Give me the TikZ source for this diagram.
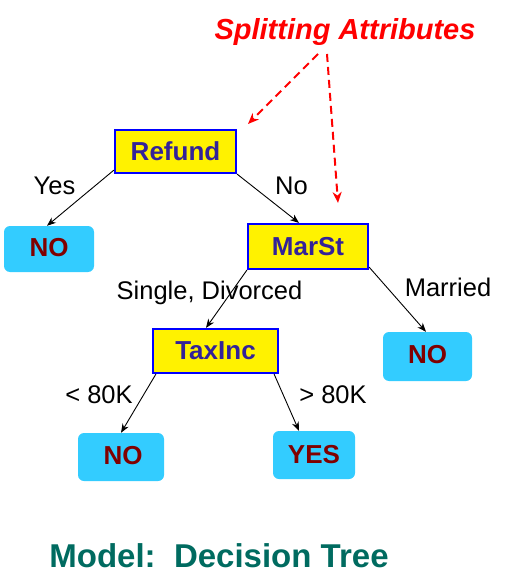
\documentclass[tikz,border=0pt]{standalone}
\usepackage{fontspec}
\setmainfont{Liberation Sans}
\usetikzlibrary{arrows.meta}
\definecolor{boxtext}{HTML}{332299}
\definecolor{leaftext}{HTML}{800000}
\definecolor{leaffill}{HTML}{33CCFF}
\definecolor{titlecol}{HTML}{006B60}
\begin{document}
\begin{tikzpicture}[x=1pt,y=-1pt,
  attrbox/.style={draw=blue, line width=2.2pt, fill=yellow, inner sep=0pt,
    font=\fontsize{26}{30}\selectfont\bfseries, text=boxtext},
  leafbox/.style={fill=leaffill, rounded corners=6pt, inner sep=0pt,
    font=\fontsize{26}{30}\selectfont\bfseries, text=leaftext},
  edgelabel/.style={inner sep=0pt, anchor=base, font=\fontsize{25.5}{30}\selectfont},
  treeedge/.style={draw=black, line width=0.9pt, -{Stealth[length=9pt,width=7pt]}},
  hintedge/.style={draw=red, line width=2pt, dash pattern=on 8pt off 5pt,
    -{Stealth[length=11pt,width=9pt]}}
]
\useasboundingbox (0,0) rectangle (510,585);
% title
\node[inner sep=0pt, anchor=base, text=red,
  font=\fontsize{29}{34}\selectfont\bfseries\itshape] (split) at (345,40) {Splitting Attributes};
% decision nodes
\node[attrbox, minimum width=121pt, minimum height=43pt] (refund) at (175.5,151.5) {Refund};
\node[attrbox, minimum width=120pt, minimum height=45pt] (marst) at (308,246.5) {MarSt};
\node[attrbox, minimum width=125pt, minimum height=44pt] (taxinc) at (215.5,351) {TaxInc};
% leaves
\node[leafbox, minimum width=90pt, minimum height=46pt] (no1) at (49,249) {\raisebox{4pt}{NO}};
\node[leafbox, minimum width=89pt, minimum height=49pt] (no2) at (427.5,356.5) {\raisebox{3.5pt}{NO}};
\node[leafbox, minimum width=86pt, minimum height=48pt] (no3) at (121,457) {\raisebox{4pt}{\hspace{4pt}NO}};
\node[leafbox, minimum width=82pt, minimum height=48pt] (yes) at (314,455) {\raisebox{2pt}{YES}\hspace{13pt}};
% edge labels
\node[edgelabel] (lyes) at (54.5,195) {Yes};
\node[edgelabel] (lno) at (291.5,195) {No};
\node[edgelabel] (lsd) at (209.5,299) {Single, Divorced};
\node[edgelabel] (lmar) at (448,296) {Married};
\node[edgelabel] (llt) at (99,403) {< 80K};
\node[edgelabel] (lgt) at (333,403) {> 80K};
% bottom caption
\node[inner sep=0pt, anchor=base, text=titlecol,
  font=\fontsize{33}{38}\selectfont\bfseries] (model) at (219,567) {Model:~~Decision Tree};
% tree edges
\draw[treeedge] ([yshift=4pt]refund.south west) -- ([xshift=-2pt]no1.north);
\draw[treeedge] (refund.south east) -- ([xshift=-9pt]marst.north);
\draw[treeedge] (marst.south west) -- ([xshift=-9.5pt]taxinc.north);
\draw[treeedge] ([yshift=3pt]marst.south east) -- ([xshift=-1.5pt]no2.north);
\draw[treeedge] ([xshift=4pt]taxinc.south west) -- (no3.north);
\draw[treeedge] ([xshift=-5pt]taxinc.south east) -- ([xshift=-15pt]yes.north);
% hint arrows
\coordinate (sa) at (318,54);
\coordinate (sb) at (327,54);
\coordinate (ta) at (248,124);
\coordinate (tb) at (338,203);
\draw[hintedge] (sa) -- (ta);
\draw[hintedge] (sb) -- (tb);
\end{tikzpicture}
\end{document}
